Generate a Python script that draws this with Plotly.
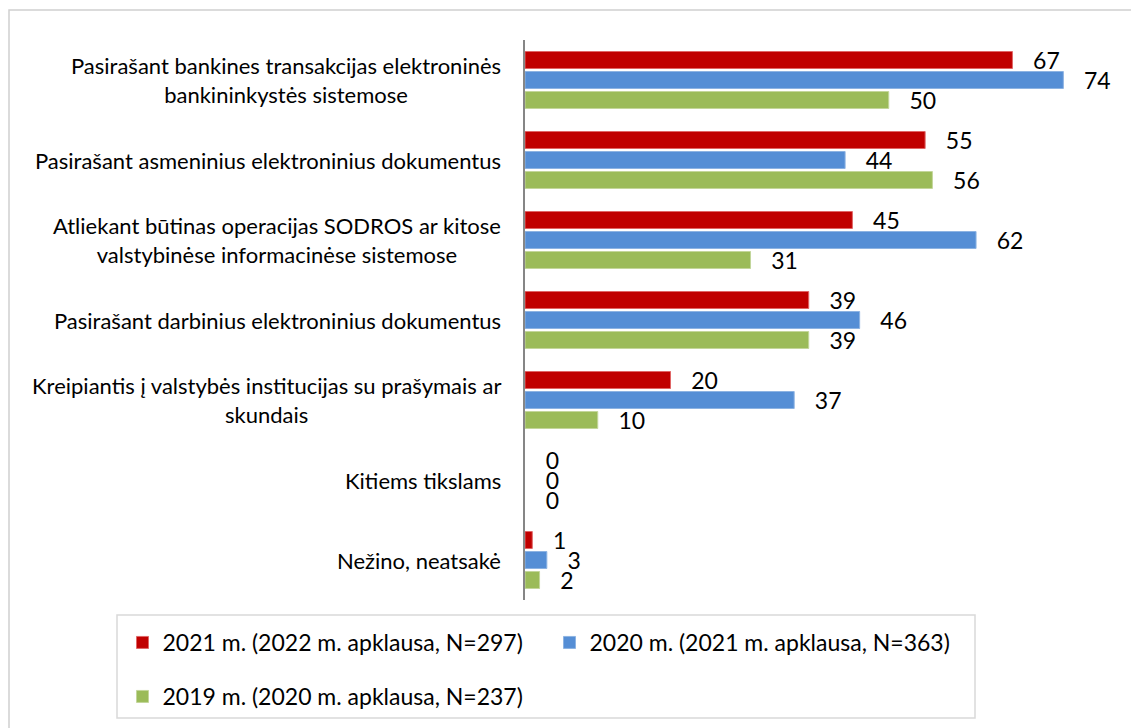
import plotly.graph_objects as go

categories = [
    "Pasirašant bankines transakcijas elektroninės<br>bankininkystės sistemose",
    "Pasirašant asmeninius elektroninius dokumentus",
    "Atliekant būtinas operacijas SODROS ar kitose<br>valstybinėse informacinėse sistemose",
    "Pasirašant darbinius elektroninius dokumentus",
    "Kreipiantis į valstybės institucijas su prašymais ar<br>skundais",
    "Kitiems tikslams",
    "Nežino, neatsakė",
]
series_names = [
    "2021 m. (2022 m. apklausa, N=297)",
    "2020 m. (2021 m. apklausa, N=363)",
    "2019 m. (2020 m. apklausa, N=237)",
]
values_2021 = [67, 55, 45, 39, 20, 0, 1]
values_2020 = [74, 44, 62, 46, 37, 0, 3]
values_2019 = [50, 56, 31, 39, 10, 0, 2]

colors = ["#C00000", "#558ED5", "#9BBB59"]
edge = ["#E06666", "#8DB3E2", "#C3D69B"]
legends = ["legend", "legend", "legend2"]

W, H = 1139, 728
OFF = 8  # page body margin
L, R, T, B = 525 - OFF, 1107 - OFF, 40 - OFF, 600 - OFF
FONT = "Lato"

def px(xp):
    return (xp - OFF - L) / (R - L)

def py(yp):
    return (B - (yp - OFF)) / (B - T)

fig = go.Figure()
for name, vals, c, e, lg in zip(series_names, [values_2021, values_2020, values_2019], colors, edge, legends):
    fig.add_trace(go.Bar(
        y=categories, x=vals, orientation="h", name=name,
        marker=dict(color=c, line=dict(color=e, width=[1 if v else 0 for v in vals])),
        text=vals, texttemplate="\u00a0\u00a0\u00a0%{x}", textposition="outside",
        constraintext="none", cliponaxis=False,
        textfont=dict(family=FONT, size=23, color="#000000"),
        legend=lg, hoverinfo="skip",
    ))

for cat in categories:
    fig.add_annotation(
        x=0, xref="paper", y=cat, yref="y", text=cat, showarrow=False,
        xanchor="right", yanchor="middle", align="center", xshift=-22,
        font=dict(family=FONT, size=22, color="#000000"),
    )

fig.add_shape(type="rect", xref="paper", yref="paper",
              x0=px(9), x1=px(1137), y0=py(740), y1=py(10),
              line=dict(color="#D0D0D0", width=1.5), layer="below")
fig.add_shape(type="rect", xref="paper", yref="paper",
              x0=px(117), x1=px(975), y0=py(718), y1=py(615),
              line=dict(color="#D9D9D9", width=1.5), layer="below")

fig.update_layout(
    width=W, height=H,
    margin=dict(l=L, r=W - R, t=T, b=H - B),
    plot_bgcolor="white", paper_bgcolor="white",
    barmode="group", bargap=0.25, bargroupgap=0.15,
    font=dict(family=FONT, size=22, color="#000000"),
    xaxis=dict(range=[0, 80], visible=False, showgrid=False, zeroline=False),
    yaxis=dict(autorange="reversed", showticklabels=False, showgrid=False,
               showline=True, linecolor="#868686", linewidth=1.5, ticks="",
               zeroline=False),
    legend=dict(orientation="h", x=px(122.5), y=py(621), xanchor="left", yanchor="top",
                entrywidth=382, entrywidthmode="pixels",
                font=dict(family=FONT, size=23, color="#000000"),
                bgcolor="rgba(0,0,0,0)", traceorder="normal"),
    legend2=dict(orientation="h", x=px(122.5), y=py(675), xanchor="left", yanchor="top",
                 font=dict(family=FONT, size=23, color="#000000"),
                 bgcolor="rgba(0,0,0,0)"),
    showlegend=True,
)

fig.write_html("out.html")
